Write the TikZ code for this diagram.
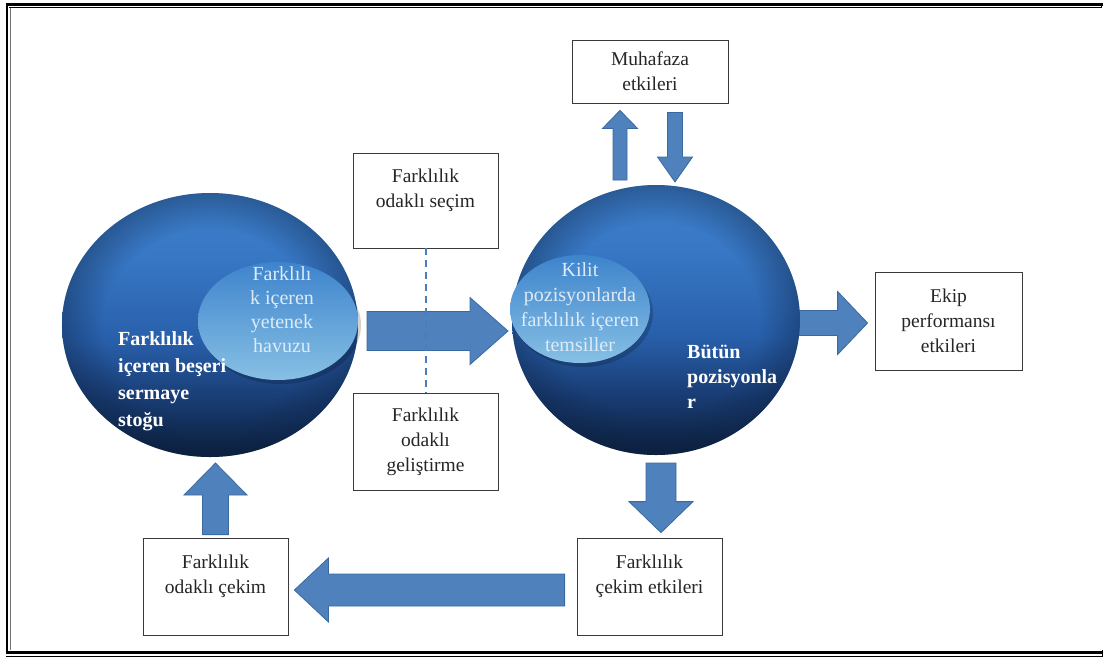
\documentclass[tikz,border=0pt]{standalone}
\usepackage{fontspec}
\setmainfont{Liberation Serif}
\usetikzlibrary{calc,fadings,shapes.geometric}

\definecolor{arrowfill}{HTML}{4F81BD}
\definecolor{arrowline}{HTML}{3A699F}
\definecolor{orbA}{RGB}{12,32,62}
\definecolor{orbB}{RGB}{25,60,115}
\definecolor{orbC}{RGB}{40,95,170}
\definecolor{orbE}{RGB}{55,118,195}
\definecolor{orbF}{RGB}{62,128,205}
\definecolor{poolT}{RGB}{62,132,204}
\definecolor{poolB}{RGB}{135,192,229}
\definecolor{pooltext}{HTML}{DDEBF7}
\definecolor{boxline}{HTML}{3A3A3A}
\definecolor{dashblue}{HTML}{4A7EBB}

% vertical colour ramps for the spheres and the inset ellipses
\pgfdeclareverticalshading{orb}{100bp}{color(0bp)=(orbA); color(25bp)=(orbA);
  color(36bp)=(orbB); color(47bp)=(orbC); color(62bp)=(orbE); color(75bp)=(orbF); color(100bp)=(orbF)}
\pgfdeclareverticalshading{pool}{100bp}{color(0bp)=(poolB); color(25bp)=(poolB);
  color(75bp)=(poolT); color(100bp)=(poolT)}
% darker rim on the spheres
\pgfdeclareradialshading{rimlum}{\pgfpointorigin}{color(0bp)=(black); color(18bp)=(black);
  color(25bp)=(white!38!black); color(50bp)=(white!38!black)}
\pgfdeclarefading{rim}{\pgfuseshading{rimlum}}

\tikzset{
  box/.style={draw=boxline, line width=0.8pt, fill=white, inner sep=0pt,
    minimum width=145pt, minimum height=97pt, align=center, text=black!85,
    font=\fontsize{19.5}{25}\selectfont},
  orb/.style={ellipse, shading=orb, inner sep=0pt},
  pool/.style={ellipse, shading=pool, inner sep=0pt},
  orblabel/.style={align=left, text=white, inner sep=0pt,
    font=\bfseries\fontsize{20}{27}\selectfont},
  poollabel/.style={align=center, text=pooltext, inner sep=0pt,
    font=\fontsize{20}{24}\selectfont},
  blockarrow/.style={fill=arrowfill, draw=arrowline, line width=0.8pt, line join=miter},
  guide/.style={draw=dashblue, line width=2pt, dash pattern=on 7pt off 5pt},
  frame/.style={line width=2.2pt, black},
  frameinner/.style={line width=0.9pt}
}

% block arrow: #1 tail, #2 tip, #3 shaft half width, #4 head half width, #5 head length
\newcommand\blockarrow[5]{%
  \coordinate (babase) at ($(#2)!#5!(#1)$);
  \path[blockarrow] ($(#1)!#3!90:(#2)$) -- ($(babase)!#3!90:(#2)$)
    -- ($(babase)!#4!90:(#2)$) -- (#2) -- ($(babase)!#4!-90:(#2)$)
    -- ($(babase)!#3!-90:(#2)$) -- ($(#1)!#3!-90:(#2)$) -- cycle;
}

\begin{document}
\begin{tikzpicture}[x=1pt,y=-1pt]
\useasboundingbox (0,0) rectangle (1104,657);

% double-rule frame
\draw[frame] (6,4.5) -- (1103,4.5);
\draw[frameinner] (9,7.5) -- (1101,7.5) -- (1101,4);
\draw[frame] (7,3.5) -- (7,654);
\draw[frameinner, black!55] (10,8) -- (10,650);
\draw[frame] (6,652.5) -- (1103,652.5);
\draw[frameinner] (6,656) -- (1103,656);
\draw[frameinner] (1102,650) -- (1102,656);

% boxes
\node[box, minimum width=156pt, minimum height=63pt] (muh) at (650,71.5) {Muhafaza\\etkileri};
\node[box, minimum height=95pt] (sec) at (425.5,200.5) {Farklılık\\odaklı seçim\\\mbox{}};
\node[box] (gel) at (425.5,441.5) {Farklılık\\odaklı\\geliştirme};
\node[box, minimum width=147pt, minimum height=98pt] (ekip) at (948.5,321) {Ekip\\performansı\\etkileri};
\node[box] (cekL) at (215.5,586.5) {Farklılık\\odaklı çekim\\\mbox{}};
\node[box] (cekR) at (649.5,586.5) {Farklılık\\çekim etkileri\\\mbox{}};

% arrow end points
\coordinate (midT) at (367,331);
\coordinate (midH) at (508,331);
\coordinate (ekipT) at (790,323);
\coordinate (ekipH) at ($(ekip.west)+(-7,2)$);
\coordinate (muhUpT) at (620,180);
\coordinate (muhUpH) at ($(muh.south)+(-30,7)$);
\coordinate (muhDnT) at ($(muh.south)+(25,9)$);
\coordinate (muhDnH) at (675,182);
\coordinate (cekRT) at (661,463);
\coordinate (cekRH) at ($(cekR.north)+(11.5,-5)$);
\coordinate (loopT) at ($(cekR.west)+(-12,3.5)$);
\coordinate (loopH) at ($(cekL.east)+(6,3.5)$);
\coordinate (cekLT) at ($(cekL.north)+(0,-3)$);
\coordinate (cekLH) at (215.5,463);

% block arrows
\blockarrow{midT}{midH}{19.5pt}{33.5pt}{38pt}
\blockarrow{ekipT}{ekipH}{12.5pt}{31.5pt}{30pt}
\blockarrow{muhUpT}{muhUpH}{7pt}{17.5pt}{18pt}
\blockarrow{muhDnT}{muhDnH}{7.5pt}{17.5pt}{25pt}
\blockarrow{cekRT}{cekRH}{15pt}{32pt}{31pt}
\blockarrow{loopT}{loopH}{16pt}{32pt}{34pt}
\blockarrow{cekLT}{cekLH}{13pt}{31.5pt}{32pt}

% dashed guide between the two development boxes
\draw[guide] (sec.south) -- (gel.north);

% left sphere: human capital stock
\node[orb, minimum width=296pt, minimum height=264pt] (capL) at (210,325) {};
\fill[orbA, path fading=rim] (capL.center) ellipse [x radius=148, y radius=132];
\fill[black, opacity=0.18] (281,325) ellipse [x radius=80, y radius=59];
\node[pool, minimum width=160pt, minimum height=118pt] (poolL) at (278,321) {};
\node[poollabel] (poolLtext) at (282,310) {Farklılı\\k içeren\\yetenek\\havuzu};
\node[orblabel, anchor=west] (capLtext) at (118,381) {Farklılık\\içeren beşeri\\sermaye\\stoğu};

% right sphere: all positions
\node[orb, minimum width=288pt, minimum height=270pt] (posR) at (656,320) {};
\fill[orbA, path fading=rim] (posR.center) ellipse [x radius=144, y radius=135];
\fill[black, opacity=0.18] (583,313) ellipse [x radius=70, y radius=54];
\node[pool, minimum width=140pt, minimum height=108pt] (keyR) at (580,309) {};
\node[poollabel, font=\fontsize{20}{25}\selectfont] (keyRtext) at (580,307) {Kilit\\pozisyonlarda\\farklılık içeren\\temsiller};
\node[orblabel, font=\bfseries\fontsize{20}{25}\selectfont, anchor=west] (posRtext) at (687,377) {Bütün\\pozisyonla\\r};

\end{tikzpicture}
\end{document}
